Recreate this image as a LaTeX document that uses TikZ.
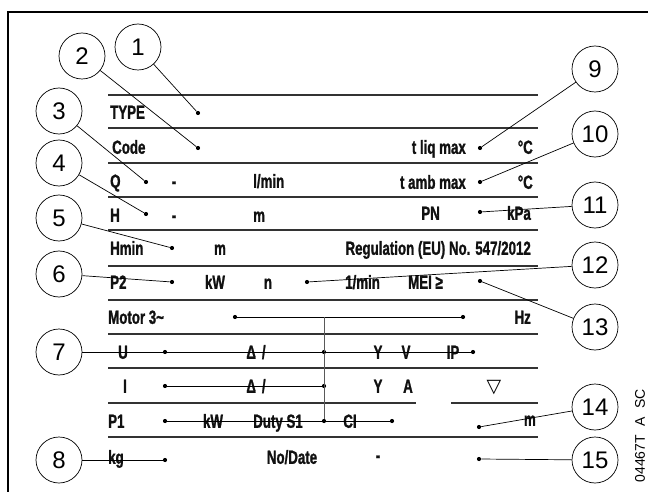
\documentclass[tikz,border=0pt]{standalone}
\usepackage{fontspec}
\setmainfont{Liberation Sans}
\newfontfamily\plateFont[FakeStretch=0.70, BoldFeatures={FakeBold=1.2}]{Liberation Sans}
\newfontfamily\plateSym{DejaVu Sans}
\usetikzlibrary{positioning,calc}
\definecolor{plateInk}{HTML}{111111}
\definecolor{plateRule}{HTML}{333333}
\tikzset{
    plateLabel/.style={
        inner sep=0pt,
        text height=13.6pt,
        text depth=0pt,
        font=\plateFont\bfseries\fontsize{19}{21}\selectfont,
        text=plateInk
    },
    plateDot/.style={circle, fill=black, inner sep=0pt, minimum size=4.2pt},
    plateCallout/.style={
        circle,
        draw=black,
        line width=0.7pt,
        minimum size=46pt,
        inner sep=0pt,
        font=\fontsize{24}{26}\selectfont
    },
    plateRuleLine/.style={draw=plateRule, line width=1.1pt},
    plateLeader/.style={draw=black, line width=0.7pt}
}

\begin{document}
\begin{tikzpicture}[
    x=1pt, y=-1pt,
    lbl/.style={plateLabel, anchor=west},
    rlbl/.style={plateLabel, anchor=east},
    clbl/.style={plateLabel, anchor=center},
]
\useasboundingbox (0,0) rectangle (648,492);

% --- Plate frame ---
\draw[line width=1.6pt] (8,492) -- (8,12) -- (648,12);

% --- Plate rules ---
\foreach \y in {95,128,163,197,230,266,300,334,368,437}{
    \draw[plateRuleLine] (108,\y) -- (538,\y);
}
\draw[plateRuleLine] (108,403) -- (416,403);
\draw[plateRuleLine] (451,403) -- (538,403);

% --- Row 1: TYPE ---
\node[lbl] (lType) at (110,112) {TYPE};
\node[plateDot] (dType) at (198,113) {};

% --- Row 2: Code ---
\node[lbl] (lCode) at (112,147) {Code};
\node[plateDot] (dCode) at (198,148) {};
\node[rlbl] (lTliq) at (466,147) {t liq max};
\node[plateDot] (dTliq) at (480,148) {};
\node[rlbl] (lDegA) at (533,147) {°C};

% --- Row 3: Q ---
\node[lbl] (lQ) at (110,181) {Q};
\node[plateDot] (dQ) at (146,182) {};
\node[clbl] (lQdash) at (174,181) {-};
\node[lbl] (lQunit) at (253,181) {l/min};
\node[rlbl] (lTamb) at (466,182) {t amb max};
\node[plateDot] (dTamb) at (480,182) {};
\node[rlbl] (lDegB) at (533,182) {°C};

% --- Row 4: H ---
\node[lbl] (lH) at (110,215) {H};
\node[plateDot] (dH) at (146,214) {};
\node[clbl] (lHdash) at (174,215) {-};
\node[lbl] (lHunit) at (253,215) {m};
\node[rlbl] (lPN) at (440,213) {PN};
\node[plateDot] (dPN) at (480,212) {};
\node[rlbl] (lKpa) at (531,213) {kPa};

% --- Row 5: Hmin ---
\node[lbl] (lHmin) at (110,248) {Hmin};
\node[plateDot] (dHmin) at (172,248) {};
\node[clbl] (lHminUnit) at (220,248) {m};
\node[rlbl] (lReg) at (531,248) {Regulation (EU) No. 547/2012};

% --- Row 6: P2 ---
\node[lbl] (lP2) at (110,282) {P2};
\node[plateDot] (dP2) at (172,282) {};
\node[clbl] (lP2unit) at (215,282) {kW};
\node[clbl] (lN) at (268,282) {n};
\node[plateDot] (dN) at (307,282) {};
\node[lbl] (lNunit) at (345,282) {1/min};
\node[lbl] (lMei) at (408,282) {MEI ≥};
\node[plateDot] (dMei) at (480,281) {};

% --- Row 7: Motor ---
\node[lbl] (lMotor) at (108,317) {Motor 3\char`~};
\node[plateDot] (dM1) at (235,317) {};
\node[plateDot] (dM2) at (463,317) {};
\node[rlbl] (lHz) at (531,317) {Hz};

% --- Row 8: U ---
\node[clbl] (lU) at (123,352) {U};
\node[plateDot] (dU1) at (165,352) {};
\node[clbl] (lUdelta) at (256,352) {Δ\hspace{6pt}/};
\node[plateDot] (dU2) at (324,352) {};
\node[clbl] (lUy) at (378,352) {Y};
\node[clbl] (lUv) at (406,352) {V};
\node[clbl] (lIP) at (453,352) {IP};
\node[plateDot] (dU3) at (473,352) {};

% --- Row 9: I ---
\node[clbl] (lI) at (125,386) {I};
\node[plateDot] (dI1) at (165,386) {};
\node[clbl] (lIdelta) at (256,386) {Δ\hspace{6pt}/};
\node[plateDot] (dI2) at (324,386) {};
\node[clbl] (lIy) at (378,386) {Y};
\node[clbl] (lIa) at (408,386) {A};
\node[font=\plateSym\fontsize{19}{20}\selectfont, inner sep=0pt] (lLevel) at (494,388) {▽};

% --- Row 10: P1 ---
\node[lbl] (lP1) at (108,421) {P1};
\node[plateDot] (dP1a) at (165,421) {};
\node[clbl] (lP1unit) at (213,421) {kW};
\node[clbl] (lDuty) at (278,421) {Duty S1};
\node[plateDot] (dP1b) at (324,421) {};
\node[clbl] (lCI) at (350,421) {CI};
\node[plateDot] (dP1c) at (392,421) {};
\node[rlbl] (lHead) at (536,419) {m};
\node[plateDot] (dHead) at (479,427) {};

% --- Row 11: kg ---
\node[lbl] (lKg) at (108,457) {kg};
\node[plateDot] (dKg) at (165,460) {};
\node[clbl] (lDate) at (292,457) {No/Date};
\node[clbl] (lDateDash) at (378,455) {-};
\node[plateDot] (dDate) at (479,459) {};

% Motor wiring
\draw[plateLeader] (dM1) -- (dM2);
\draw[plateLeader] (dI1) -- (dI2);
\draw[plateLeader] (dP1a) -- (dP1c);
\draw[line width=0.9pt, draw=black!65] (dP1b) -- (dP1b |- dM1);

% --- Callouts ---
\foreach \n/\x/\y in {1/138/47, 2/82/56, 3/59/111, 4/59/163, 5/59/218,
    6/59/274, 7/59/352, 8/59/460, 9/595/69, 10/595/134, 11/595/205,
    12/595/265, 13/595/327, 14/595/407, 15/595/460}{
    \node[plateCallout] (c\n) at (\x,\y) {\n};
}

% Leaders from callouts to fields
\foreach \a/\b in {c1/dType, c2/dCode, c3/dQ, c4/dH, c5/dHmin, c6/dP2,
    c7/dU3, c8/dKg, c9/dTliq, c10/dTamb, c11/dPN, c12/dN, c13/dMei,
    c14/dHead, c15/dDate}{
    \draw[plateLeader] (\a) -- (\b);
}

% Drawing number
\node[rotate=90, font=\fontsize{14}{16}\selectfont, inner sep=0pt] (drawNo) at (640,436)
    {04467T\hspace{0.6em}A\hspace{0.6em}SC};

\end{tikzpicture}
\end{document}
